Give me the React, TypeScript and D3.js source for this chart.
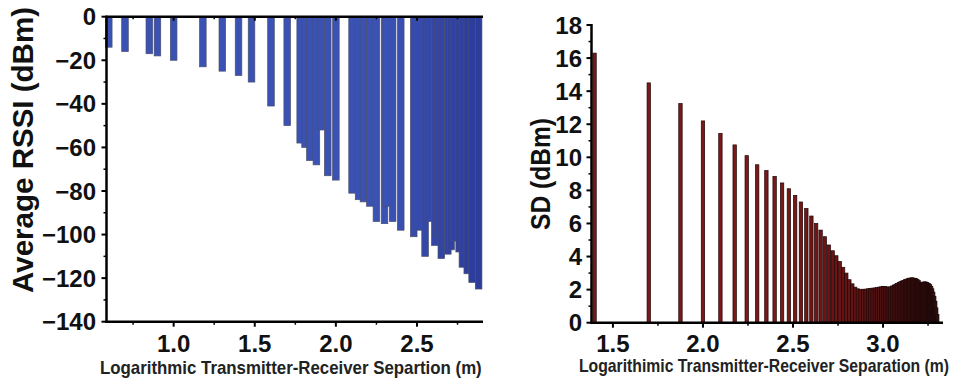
import React from "react";
import * as d3 from "d3";

// ---- Left chart: average RSSI vs log separation ----
const rssiLogSep = [
  0.6, 0.7, 0.85, 0.9, 1.0, 1.18, 1.3, 1.4, 1.48, 1.6, 1.7, 1.78, 1.81, 1.84, 1.88, 1.91, 1.95, 2.0,
  2.1, 2.14, 2.17, 2.21, 2.25, 2.3, 2.31, 2.35, 2.4, 2.48, 2.51, 2.55, 2.57, 2.61, 2.63, 2.65, 2.69,
  2.71, 2.73, 2.76, 2.78, 2.81, 2.84, 2.88,
];
const rssiValues = [
  -14, -16, -17, -18, -20, -23, -25, -27, -30, -41, -50, -58, -60, -66, -68, -52, -73, -75,
  -81, -84, -85, -87, -94, -95, -87, -94, -98, -101, -98, -110, -94, -105, -101, -111, -109,
  -107, -103, -108, -115, -118, -122, -125,
];
const leftXTicks = [1.0, 1.5, 2.0, 2.5];
const leftXMinor = [0.75, 1.25, 1.75, 2.25, 2.75];
const leftYTicks = [0, -20, -40, -60, -80, -100, -120, -140];
const leftYMinor = [-10, -30, -50, -70, -90, -110, -130];

// ---- Right chart: SD vs log separation ----
const sdDistances = [
  25, 50, 75, 100, 125, 150, 175, 200, 225, 250, 275, 300, 325, 350, 375, 400, 425, 450, 475, 500,
  525, 550, 575, 600, 625, 650, 675, 700, 725, 750, 775, 800, 825, 850, 875, 900, 925, 950, 975, 1000,
  1025, 1050, 1075, 1100, 1125, 1150, 1175, 1200, 1225, 1250, 1275, 1300, 1325, 1350, 1375, 1400,
  1425, 1450, 1475, 1500, 1525, 1550, 1575, 1600, 1625, 1650, 1675, 1700, 1725, 1750, 1775, 1800,
  1825, 1850, 1875, 1900, 1925, 1950, 1975, 2000,
];
const sdValues = [
  16.3, 14.5, 13.25, 12.2, 11.45, 10.75, 10.1, 9.55, 9.2, 8.85, 8.45, 8.1, 7.7, 7.3, 6.9, 6.45, 6.0,
  5.6, 5.2, 4.7, 4.35, 4.05, 3.7, 3.35, 3.0, 2.6, 2.35, 2.15, 2.05, 2.02, 2.02, 2.03, 2.05, 2.07,
  2.09, 2.1, 2.12, 2.15, 2.17, 2.2, 2.18, 2.16, 2.15, 2.17, 2.22, 2.28, 2.33, 2.38, 2.43, 2.48,
  2.52, 2.56, 2.6, 2.63, 2.66, 2.69, 2.7, 2.71, 2.7, 2.68, 2.66, 2.62, 2.55, 2.45, 2.4, 2.42, 2.45,
  2.47, 2.46, 2.44, 2.4, 2.36, 2.3, 2.2, 2.05, 1.85, 1.6, 1.3, 0.9, 0.5,
];
const rightXTicks = [1.5, 2.0, 2.5, 3.0];
const rightXMinor = [1.75, 2.25, 2.75, 3.25];
const rightYTicks = [0, 2, 4, 6, 8, 10, 12, 14, 16, 18];
const rightYMinor = [1, 3, 5, 7, 9, 11, 13, 15, 17];

const FONT = "'Liberation Sans', Arial, Helvetica, sans-serif";

export default function App() {
  const xL = d3.scaleLinear().domain([0.586, 2.907]).range([106.5, 483]);
  const yL = d3.scaleLinear().domain([0, -140]).range([16.7, 321.7]);
  const blue = d3
    .scaleLinear<string>()
    .domain([2.3, 2.9])
    .range(["#3a52b4", "#2c3b9a"])
    .clamp(true);

  const xR = d3.scaleLinear().domain([1.381, 3.333]).range([591.5, 943]);
  const yR = d3.scaleLinear().domain([0, 18]).range([322.7, 25]);
  const red = d3
    .scaleLinear<string>()
    .domain([2.4, 2.8, 3.3])
    .range(["#7e1818", "#661313", "#2a0f0f"])
    .clamp(true);

  const fmt1 = d3.format(".1f");
  const fmtInt = d3.format("d");

  const bwL = 6.6;
  const bwR = 3.4;
  const axisW = 2.5;

  const [yL0, yLbot] = yL.range();
  const [xL0, xL1] = xL.range();
  const [xR0, xR1] = xR.range();
  const yR0 = yR(0);
  const yRtop = yR(18);

  return (
    <svg
      width={956}
      height={379}
      style={{ position: "absolute", left: 0, top: 0, background: "#fff" }}
      fontFamily={FONT}
      fontWeight="bold"
    >
      {/* ===== Left chart ===== */}
      <g>
        {rssiLogSep.map((x, i) => {
          const v = rssiValues[i];
          return (
            <rect
              key={"lb" + i}
              x={xL(x) - bwL / 2}
              y={yL(0)}
              width={bwL}
              height={yL(v) - yL(0)}
              fill={blue(x)}
              stroke="#4a4f6e"
              strokeWidth={0.7}
            />
          );
        })}
        {/* top line */}
        <line x1={xL0 - 1} x2={xL1} y1={yL0} y2={yL0} stroke="#000" strokeWidth={axisW} />
        {leftXTicks.map((t) => (
          <line key={"tt" + t} x1={xL(t)} x2={xL(t)} y1={yL0} y2={yL0 + 4} stroke="#000" strokeWidth={2} />
        ))}
        {leftXMinor.map((t) => (
          <line key={"ttm" + t} x1={xL(t)} x2={xL(t)} y1={yL0} y2={yL0 + 2.5} stroke="#000" strokeWidth={1.5} />
        ))}
        {/* left axis */}
        <line x1={xL0} x2={xL0} y1={yL0 - 1} y2={yLbot + 1.2} stroke="#000" strokeWidth={axisW} />
        {leftYTicks.map((t) => (
          <g key={"ly" + t}>
            <line x1={xL0 - 5} x2={xL0} y1={yL(t)} y2={yL(t)} stroke="#000" strokeWidth={2} />
            <text x={96} y={yL(t)} dy="0.36em" textAnchor="end" fontSize={24} fill="#111">
              {fmtInt(t)}
            </text>
          </g>
        ))}
        {leftYMinor.map((t) => (
          <line key={"lym" + t} x1={xL0 - 3} x2={xL0} y1={yL(t)} y2={yL(t)} stroke="#000" strokeWidth={1.5} />
        ))}
        {/* bottom axis */}
        <line x1={xL0 - 1} x2={xL1} y1={yLbot} y2={yLbot} stroke="#000" strokeWidth={axisW} />
        {leftXTicks.map((t) => (
          <g key={"lx" + t}>
            <line x1={xL(t)} x2={xL(t)} y1={yLbot} y2={yLbot + 5} stroke="#000" strokeWidth={2} />
            <text x={xL(t)} y={352} textAnchor="middle" fontSize={24} fill="#111">
              {fmt1(t)}
            </text>
          </g>
        ))}
        {leftXMinor.map((t) => (
          <line key={"lxm" + t} x1={xL(t)} x2={xL(t)} y1={yLbot} y2={yLbot + 3} stroke="#000" strokeWidth={1.5} />
        ))}
        <g transform="translate(100,374) scale(0.936,1)">
          <text x={0} y={0} fontSize={18} fill="#222">
            Logarithmic Transmitter-Receiver Separtion (m)
          </text>
        </g>
        <text
          transform="translate(33,150) rotate(-90)"
          textAnchor="middle"
          fontSize={30}
          fill="#111"
          textLength={286}
          lengthAdjust="spacingAndGlyphs"
        >
          Average RSSI (dBm)
        </text>
      </g>

      {/* ===== Right chart ===== */}
      <g>
        {sdDistances.map((d, i) => {
          const x = Math.log10(d);
          const v = sdValues[i];
          return (
            <rect
              key={"rb" + i}
              x={xR(x) - bwR / 2}
              y={yR(v)}
              width={bwR}
              height={yR0 - yR(v)}
              fill={red(x)}
              stroke="#1e0606"
              strokeWidth={0.7}
            />
          );
        })}
        <line x1={xR0} x2={xR0} y1={yRtop - 1} y2={yR0 + 1.2} stroke="#000" strokeWidth={axisW} />
        <line x1={xR0 - 3} x2={xR0} y1={yRtop} y2={yRtop} stroke="#000" strokeWidth={2} />
        {rightYTicks.map((t) => (
          <g key={"ry" + t}>
            <line x1={xR0 - 5} x2={xR0} y1={yR(t)} y2={yR(t)} stroke="#000" strokeWidth={2} />
            <text x={582} y={yR(t)} dy="0.36em" textAnchor="end" fontSize={24} fill="#111">
              {fmtInt(t)}
            </text>
          </g>
        ))}
        {rightYMinor.map((t) => (
          <line key={"rym" + t} x1={xR0 - 3} x2={xR0} y1={yR(t)} y2={yR(t)} stroke="#000" strokeWidth={1.5} />
        ))}
        <line x1={xR0 - 1} x2={xR1} y1={yR0} y2={yR0} stroke="#000" strokeWidth={axisW} />
        {rightXTicks.map((t) => (
          <g key={"rx" + t}>
            <line x1={xR(t)} x2={xR(t)} y1={yR0} y2={yR0 + 5} stroke="#000" strokeWidth={2} />
            <text x={xR(t)} y={352} textAnchor="middle" fontSize={24} fill="#111">
              {fmt1(t)}
            </text>
          </g>
        ))}
        {rightXMinor.map((t) => (
          <line key={"rxm" + t} x1={xR(t)} x2={xR(t)} y1={yR0} y2={yR0 + 3} stroke="#000" strokeWidth={1.5} />
        ))}
        <g transform="translate(579,372) scale(0.875,1)">
          <text x={0} y={0} fontSize={18} fill="#222">
            Logarithimic Transmitter-Receiver Separation (m)
          </text>
        </g>
        <text
          transform="translate(550,174) rotate(-90)"
          textAnchor="middle"
          fontSize={27}
          fill="#111"
          textLength={112}
          lengthAdjust="spacingAndGlyphs"
        >
          SD (dBm)
        </text>
      </g>
    </svg>
  );
}
